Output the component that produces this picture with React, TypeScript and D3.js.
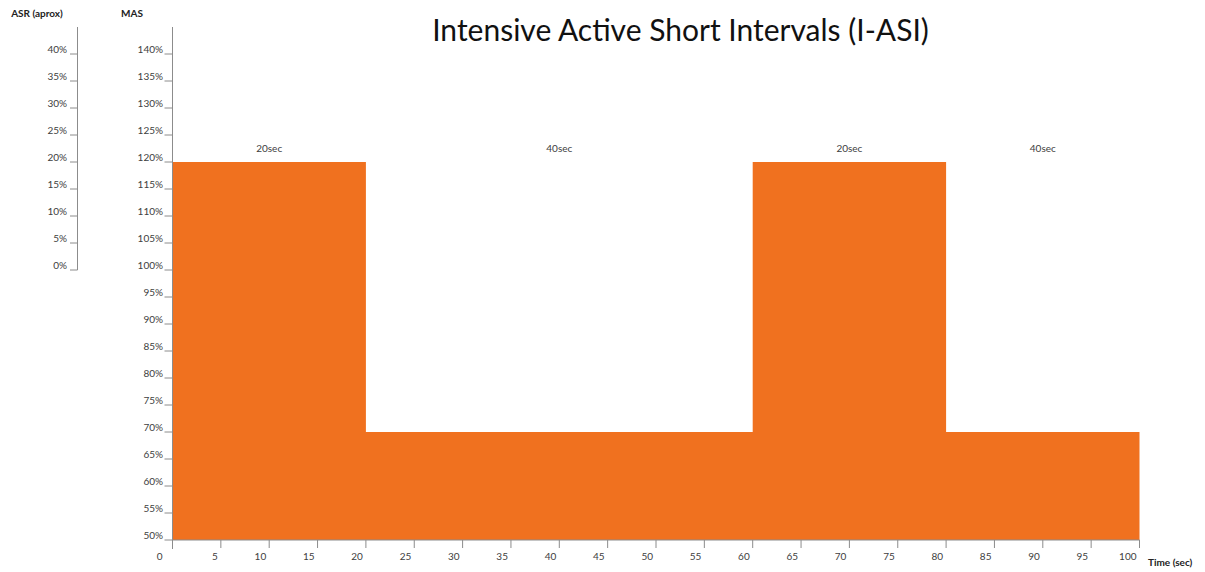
import React from "react";
import * as d3 from "d3";

const W = 1205;
const H = 572;

const TITLE = "Intensive Active Short Intervals (I-ASI)";
// intervals: [start, end, MAS %, label]
const intervalStarts = [0, 20, 60, 80];
const intervalEnds = [20, 60, 80, 100];
const intervalMAS = [120, 70, 120, 70];
const intervalLabels = ["20sec", "40sec", "20sec", "40sec"];

const xTicks = d3.range(0, 101, 5);
const masTicks = d3.range(50, 141, 5);
const asrTicks = d3.range(0, 41, 5);

const ORANGE = "#F0711F";
const AXIS = "#8c8c8c";
const TEXT = "#404040";
const FONT = "Lato, 'Open Sans', sans-serif";

export default function App() {
  const x = d3.scaleLinear().domain([0, 100]).range([172.5, 1139.5]);
  const y = d3.scaleLinear().domain([50, 140]).range([540, 54]);
  const yAsr = d3.scaleLinear().domain([0, 40]).range([270, 54]);

  const pts: [number, number][] = [];
  intervalStarts.forEach((s, i) => {
    pts.push([s, intervalMAS[i]]);
    pts.push([intervalEnds[i], intervalMAS[i]]);
  });
  const area = d3
    .area<[number, number]>()
    .x((d) => x(d[0]))
    .y0(y(50))
    .y1((d) => y(d[1]));

  return (
    <svg
      width={W}
      height={H}
      style={{ position: "absolute", left: 0, top: 0, background: "#fff" }}
      fontFamily={FONT}
    >
      <text x={680.5} y={41} textAnchor="middle" fontSize={30} fill="#111">
        {TITLE}
      </text>

      {/* area */}
      <path d={area(pts) || ""} fill={ORANGE} />

      {/* interval labels */}
      {intervalStarts.map((s, i) => (
        <text
          key={"lab" + i}
          x={x((s + intervalEnds[i]) / 2)}
          y={152}
          textAnchor="middle"
          fontSize={10}
          fill={TEXT}
        >
          {intervalLabels[i]}
        </text>
      ))}

      {/* MAS axis */}
      <text x={132} y={17} textAnchor="middle" fontSize={10} fontWeight="bold" fill="#222">
        MAS
      </text>
      <line x1={x(0)} x2={x(0)} y1={27} y2={549} stroke={AXIS} strokeWidth={1} />
      {masTicks.map((t) => (
        <g key={"m" + t}>
          <line x1={x(0) - 8} x2={x(0)} y1={y(t)} y2={y(t)} stroke={AXIS} />
          <text x={163} y={y(t) - 1} textAnchor="end" fontSize={10} fill={TEXT}>
            {t}%
          </text>
        </g>
      ))}

      {/* ASR axis */}
      <text x={37} y={17} textAnchor="middle" fontSize={10} fontWeight="bold" fill="#222">
        ASR (aprox)
      </text>
      <line x1={77.5} x2={77.5} y1={27} y2={yAsr(0)} stroke={AXIS} />
      {asrTicks.map((t) => (
        <g key={"a" + t}>
          <line x1={70} x2={77.5} y1={yAsr(t)} y2={yAsr(t)} stroke={AXIS} />
          <text x={67} y={yAsr(t) - 1} textAnchor="end" fontSize={10} fill={TEXT}>
            {t}%
          </text>
        </g>
      ))}

      {/* X axis */}
      <line x1={x(0)} x2={x(100)} y1={y(50)} y2={y(50)} stroke={AXIS} />
      {xTicks.map((t) => (
        <g key={"x" + t}>
          <line x1={x(t)} x2={x(t)} y1={y(50)} y2={y(50) + 8} stroke={AXIS} />
          <text
            x={t === 0 ? x(t) - 10 : x(t) - 3}
            y={560}
            textAnchor="end"
            fontSize={10}
            fill={TEXT}
          >
            {t}
          </text>
        </g>
      ))}
      <text x={1148} y={566} fontSize={10} fontWeight="bold" fill="#222">
        Time (sec)
      </text>
    </svg>
  );
}
